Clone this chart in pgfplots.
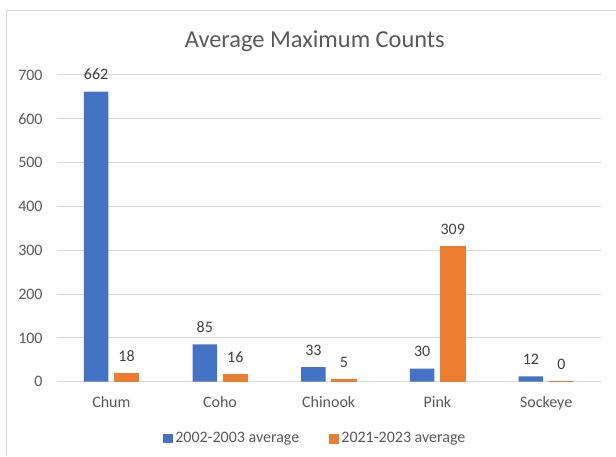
\documentclass[border=0pt]{standalone}
\usepackage{fontspec}
\setmainfont{Carlito}
\usepackage{pgfplots}
\pgfplotsset{compat=1.18}
\definecolor{exblue}{HTML}{4472C4}
\definecolor{exorange}{HTML}{ED7D31}
\definecolor{txtgray}{HTML}{595959}
\definecolor{lblgray}{HTML}{404040}
\definecolor{gridgray}{HTML}{D9D9D9}
\pgfplotsset{sqlegend/.style={legend image code/.code={\fill[##1] (0pt,-3.5pt) rectangle (7pt,3.5pt);}}}

\begin{document}
\begin{tikzpicture}
% page = 616 x 456 px = 462 x 342 pt
\path (0pt,0pt) rectangle (462pt,342pt);
\draw[gridgray, line width=0.75pt] (5.25pt,0pt) -- (5.25pt,333.75pt) -- (462pt,333.75pt);
\node[txtgray, font=\fontsize{18.3}{22}\selectfont] at (236.25pt,311.25pt) {Average Maximum Counts};
\begin{axis}[
    at={(42.75pt,55.5pt)}, anchor=south west,
    scale only axis,
    width=408pt, height=230.25pt,
    ybar=4.5pt, bar width=18.4pt,
    xmin=-0.5, xmax=4.5,
    ymin=0, ymax=700,
    clip=false,
    xtick={0,1,2,3,4},
    xticklabels={Chum,Coho,Chinook,Pink,Sockeye},
    ytick={0,100,...,700},
    ymajorgrids,
    grid style={gridgray, line width=0.75pt},
    axis line style={draw=none},
    major tick length=0pt,
    /pgf/number format/assume math mode=true,
    tick label style={font=\fontsize{12}{14}\selectfont, text=txtgray},
    yticklabel style={xshift=-7.25pt},
    xticklabel style={yshift=-7.25pt},
    nodes near coords,
    nodes near coords style={font=\fontsize{12}{14}\selectfont, text=lblgray,
        inner sep=0pt, yshift=8.6pt},
    legend columns=2,
    legend style={at={(0.476,-0.186)}, anchor=center, draw=none,
        font=\fontsize{12}{14}\selectfont, text=txtgray,
        /tikz/every even column/.append style={column sep=20pt}},
]
\addplot[fill=exblue, draw=none, sqlegend]
    coordinates {(0,662) (1,85) (2,33) (3,30) (4,12)};
\addlegendentry{2002-2003 average}
\addplot[fill=exorange, draw=exorange, line width=0.6pt, sqlegend]
    coordinates {(0,18) (1,16) (2,5) (3,309) (4,0)};
\addlegendentry{2021-2023 average}
\end{axis}
\end{tikzpicture}
\end{document}
